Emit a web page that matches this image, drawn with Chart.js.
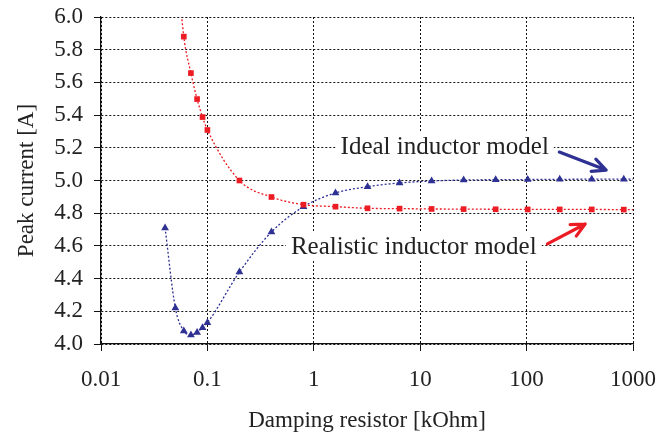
<!DOCTYPE html>
<html>
<head>
<meta charset="utf-8">
<script src="https://cdn.jsdelivr.net/npm/chart.js@4"></script>
<style>
  html, body { margin: 0; padding: 0; background: #fff; }
  #wrap { width: 669px; height: 435px; }
</style>
</head>
<body>
<div id="wrap"><canvas id="peak"></canvas></div>
<script>
// damping resistor values [kOhm]
const resistance = [0.04, 0.05, 0.06, 0.07, 0.08, 0.09, 0.1, 0.2, 0.4, 0.8, 1.6, 3.2, 6.4, 12.8, 25.6, 51.2, 102.4, 204.8, 409.6, 819.2, 1638.4];
// peak current [A]
const idealCurrent = [4.71, 4.22, 4.08, 4.055, 4.07, 4.10, 4.13, 4.44, 4.685, 4.84, 4.924, 4.962, 4.985, 4.997, 5.003, 5.005, 5.006, 5.007, 5.008, 5.008, 5.009];
const realCurrent = [null, 6.45, 5.88, 5.657, 5.498, 5.388, 5.309, 5.0, 4.899, 4.852, 4.84, 4.83, 4.828, 4.826, 4.825, 4.824, 4.823, 4.823, 4.823, 4.822, 4.822];
const xTicks = [0.01, 0.1, 1, 10, 100, 1000];
const yTicks = [4.0, 4.2, 4.4, 4.6, 4.8, 5.0, 5.2, 5.4, 5.6, 5.8, 6.0];

const SERIF = '"Liberation Serif", "Times New Roman", serif';
const RED = '#ec1c24';
const NAVY = '#2e3192';

// last point only carries the trend line to the edge
const markerSize = (r) => resistance.map((v, i) => i === resistance.length - 1 ? 0 : r);

const toPoints = (ys) => resistance.map((x, i) => ({ x: x, y: ys[i] }));

// callouts, placed in data coordinates
const callouts = [
  { text: 'Ideal inductor model', at: [17.0, 5.205], arrow: [[203, 5.174], [559, 5.064]], color: NAVY },
  { text: 'Realistic inductor model', at: [8.7, 4.593], arrow: [[157, 4.612], [355, 4.734]], color: RED }
];

const calloutPlugin = {
  id: 'callouts',
  afterDraw(chart) {
    const { ctx, scales: { x, y } } = chart;
    ctx.save();
    ctx.font = '25px ' + SERIF;
    ctx.textAlign = 'center';
    ctx.textBaseline = 'middle';
    callouts.forEach(c => {
      const px = x.getPixelForValue(c.at[0]);
      const py = y.getPixelForValue(c.at[1]);
      const w = ctx.measureText(c.text).width;
      ctx.fillStyle = '#fff';
      ctx.fillRect(px - w / 2 - 5, py - 14, w + 10, 28);
      ctx.fillStyle = '#222';
      ctx.fillText(c.text, px, py);

      const x1 = x.getPixelForValue(c.arrow[0][0]), y1 = y.getPixelForValue(c.arrow[0][1]);
      const x2 = x.getPixelForValue(c.arrow[1][0]), y2 = y.getPixelForValue(c.arrow[1][1]);
      const ang = Math.atan2(y2 - y1, x2 - x1);
      const head = 15;
      ctx.strokeStyle = c.color;
      ctx.lineWidth = 3.2;
      ctx.lineCap = 'round';
      ctx.lineJoin = 'round';
      ctx.beginPath();
      ctx.moveTo(x1, y1);
      ctx.lineTo(x2, y2);
      ctx.moveTo(x2 - head * Math.cos(ang - 0.45), y2 - head * Math.sin(ang - 0.45));
      ctx.lineTo(x2, y2);
      ctx.lineTo(x2 - head * Math.cos(ang + 0.45), y2 - head * Math.sin(ang + 0.45));
      ctx.stroke();
    });
    ctx.restore();
  }
};

new Chart(document.getElementById('peak'), {
  type: 'line',
  data: {
    datasets: [
      {
        label: 'Realistic inductor model',
        data: toPoints(realCurrent),
        borderColor: RED,
        backgroundColor: RED,
        borderWidth: 1.3,
        borderDash: [2, 2],
        pointStyle: 'rect',
        pointRadius: markerSize(4),
        pointBorderWidth: 0,
        cubicInterpolationMode: 'monotone',
        spanGaps: true
      },
      {
        label: 'Ideal inductor model',
        data: toPoints(idealCurrent),
        borderColor: NAVY,
        backgroundColor: NAVY,
        borderWidth: 1.3,
        borderDash: [2, 2],
        pointStyle: 'triangle',
        pointRadius: markerSize(4.5),
        pointBorderWidth: 0,
        cubicInterpolationMode: 'monotone'
      }
    ]
  },
  options: {
    responsive: true,
    maintainAspectRatio: false,
    animation: false,
    layout: { padding: { top: 17, right: 36, left: 0, bottom: 0 } },
    plugins: {
      legend: { display: false },
      tooltip: { enabled: false }
    },
    scales: {
      x: {
        type: 'logarithmic',
        min: 0.01,
        max: 1000,
        afterBuildTicks: (s) => { s.ticks = xTicks.map(v => ({ value: v })); },
        afterFit: (s) => { s.height = 91; s.paddingLeft = 0; s.paddingRight = 0; },
        ticks: {
          color: '#222',
          font: { family: SERIF, size: 23 },
          padding: 15,
          maxRotation: 0,
          callback: (v) => String(v)
        },
        grid: { color: '#111', lineWidth: 1, tickLength: 7, tickColor: '#111' },
        border: { display: true, color: '#111', width: 1.3, dash: [2, 2] },
        title: {
          display: true,
          text: 'Damping resistor [kOhm]',
          color: '#222',
          font: { family: SERIF, size: 23 },
          padding: { top: 0, bottom: 0 }
        }
      },
      y: {
        min: 4.0,
        max: 6.0,
        afterBuildTicks: (s) => { s.ticks = yTicks.map(v => ({ value: v })); },
        afterFit: (s) => { s.width = 101; s.paddingTop = 0; s.paddingBottom = 0; },
        ticks: {
          color: '#222',
          font: { family: SERIF, size: 23 },
          padding: 11,
          callback: (v) => v.toFixed(1)
        },
        grid: { color: '#111', lineWidth: 1, tickLength: 7, tickColor: '#111' },
        border: { display: true, color: '#111', width: 1.3, dash: [2, 2] },
        title: {
          display: true,
          text: 'Peak current [A]',
          color: '#222',
          font: { family: SERIF, size: 23 },
          padding: { top: 13, bottom: 0 }
        }
      }
    }
  },
  plugins: [calloutPlugin]
});
</script>
</body>
</html>
